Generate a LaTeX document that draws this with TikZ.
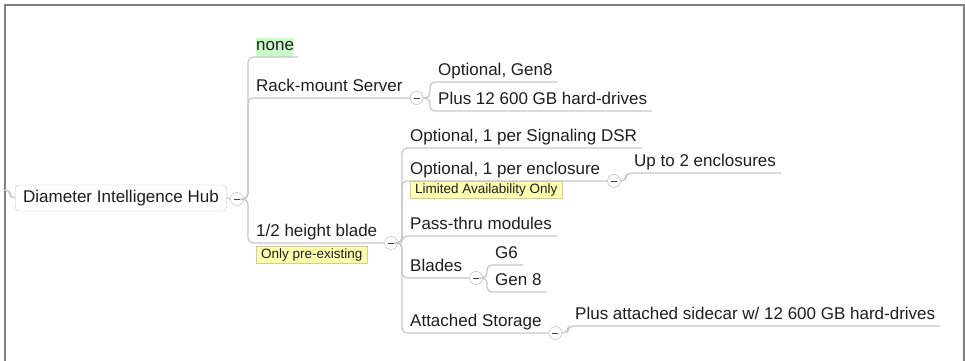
\documentclass[tikz,border=0pt]{standalone}
\usepackage{fontspec}
\setmainfont{Liberation Sans}
\usetikzlibrary{positioning}

\definecolor{linkgray}{RGB}{200,200,200}
\definecolor{foldgray}{RGB}{175,175,175}
\definecolor{boxgray}{RGB}{195,195,195}
\definecolor{framegray}{RGB}{128,128,128}
\definecolor{notefill}{RGB}{255,255,176}
\definecolor{notedraw}{RGB}{205,205,160}
\definecolor{nonefill}{RGB}{204,250,204}
\definecolor{inkgray}{RGB}{30,30,30}

\tikzset{
    hub/.style={draw=boxgray, fill=white, rounded corners=4pt, inner xsep=8pt, minimum height=26pt,
        text=inkgray, font=\fontsize{17}{20}\selectfont},
    topic/.style={anchor=south west, inner xsep=0pt, inner ysep=0pt, text height=12.5pt, text depth=6pt,
        text=inkgray, font=\fontsize{17}{20}\selectfont},
    note/.style={draw=notedraw, fill=notefill, inner xsep=5pt, inner ysep=2pt, text height=10pt,
        text depth=3pt, text=inkgray, font=\fontsize{13.5}{15}\selectfont},
    fold/.style={circle, draw=foldgray, fill=white, minimum size=13pt, inner sep=0pt,
        path picture={\draw[black!75, line width=1pt]
            ([xshift=-3pt]path picture bounding box.center) -- ([xshift=3pt]path picture bounding box.center);}},
    link/.style={draw=linkgray, line width=1.3pt, rounded corners=5pt},
}

\begin{document}
\begin{tikzpicture}[x=1pt, y=-1pt]
    \useasboundingbox (0,0) rectangle (965,360);
    \draw[framegray, line width=2pt] (5,5) rectangle (964,375);

    % Root
    \coordinate (edge) at (6,190);
    \node[hub] (hub) at (121,198) {Diameter Intelligence Hub};
    \node[fold] (c0) at (237,199) {};

    % First level
    \node[topic, fill=nonefill] (none) at (256,57) {none};
    \node[topic] (rack) at (256,98) {Rack-mount Server};
    \node[topic] (blade) at (256,243) {1/2 height blade};
    \node[fold, right=7pt of rack.south east] (c1) {};
    \node[fold, right=7pt of blade.south east] (c2) {};
    \node[note, below=3pt of blade.south west, anchor=north west] (preex) {Only pre-existing};

    % Rack-mount children
    \node[topic] (gen8) at (438,82) {Optional, Gen8};
    \node[topic] (drives) at (438,111) {Plus 12 600 GB hard-drives};

    % Blade children
    \node[topic] (dsr) at (410,148) {Optional, 1 per Signaling DSR};
    \node[topic] (encl) at (410,181) {Optional, 1 per enclosure};
    \node[note, below=0pt of encl.south west, anchor=north west] (limited) {Limited Availability Only};
    \node[fold, right=7pt of encl.south east] (c3) {};
    \node[topic] (upto) at (634,173) {Up to 2 enclosures};
    \node[topic] (pass) at (410,236) {Pass-thru modules};
    \node[topic] (blades) at (410,278) {Blades};
    \node[fold, right=7pt of blades.south east] (c4) {};
    \node[topic] (g6) at (495,265) {G6};
    \node[topic] (gen8b) at (495,292) {Gen 8};
    \node[topic] (storage) at (410,333) {Attached Storage};
    \node[fold, right=7pt of storage.south east] (c5) {};
    \node[topic] (sidecar) at (575,326) {Plus attached sidecar w/ 12 600 GB hard-drives};

    % Links
    \draw[link] (edge) -| ([xshift=-5pt]hub.west) -- (hub.west);
    \draw[link] (hub.east) -- (c0.west);
    \draw[link] (c0.east) -| ([xshift=-8pt]none.south west) -- ([xshift=4pt]none.south east);
    \draw[link] (c0.east) -| ([xshift=-8pt]rack.south west) -- (c1.west);
    \draw[link] (c0.east) -| ([xshift=-8pt]blade.south west) -- (c2.west);

    \draw[link] (c1.east) -| ([xshift=-8pt]gen8.south west) -- ([xshift=5pt]gen8.south east);
    \draw[link] (c1.east) -| ([xshift=-8pt]drives.south west) -- ([xshift=5pt]drives.south east);

    \draw[link] (c2.east) -| ([xshift=-8pt]dsr.south west) -- ([xshift=5pt]dsr.south east);
    \draw[link] (c2.east) -| ([xshift=-8pt]encl.south west) -- (c3.west);
    \draw[link] (c2.east) -| ([xshift=-8pt]pass.south west) -- ([xshift=5pt]pass.south east);
    \draw[link] (c2.east) -| ([xshift=-8pt]blades.south west) -- (c4.west);
    \draw[link] (c2.east) -| ([xshift=-8pt]storage.south west) -- (c5.west);

    \draw[link] (c3.east) -| ([xshift=-8pt]upto.south west) -- ([xshift=5pt]upto.south east);
    \draw[link] (c4.east) -| ([xshift=-8pt]g6.south west) -- ([xshift=5pt]g6.south east);
    \draw[link] (c4.east) -| ([xshift=-8pt]gen8b.south west) -- ([xshift=5pt]gen8b.south east);
    \draw[link] (c5.east) -| ([xshift=-7pt]sidecar.south west) -- ([xshift=5pt]sidecar.south east);
\end{tikzpicture}
\end{document}
